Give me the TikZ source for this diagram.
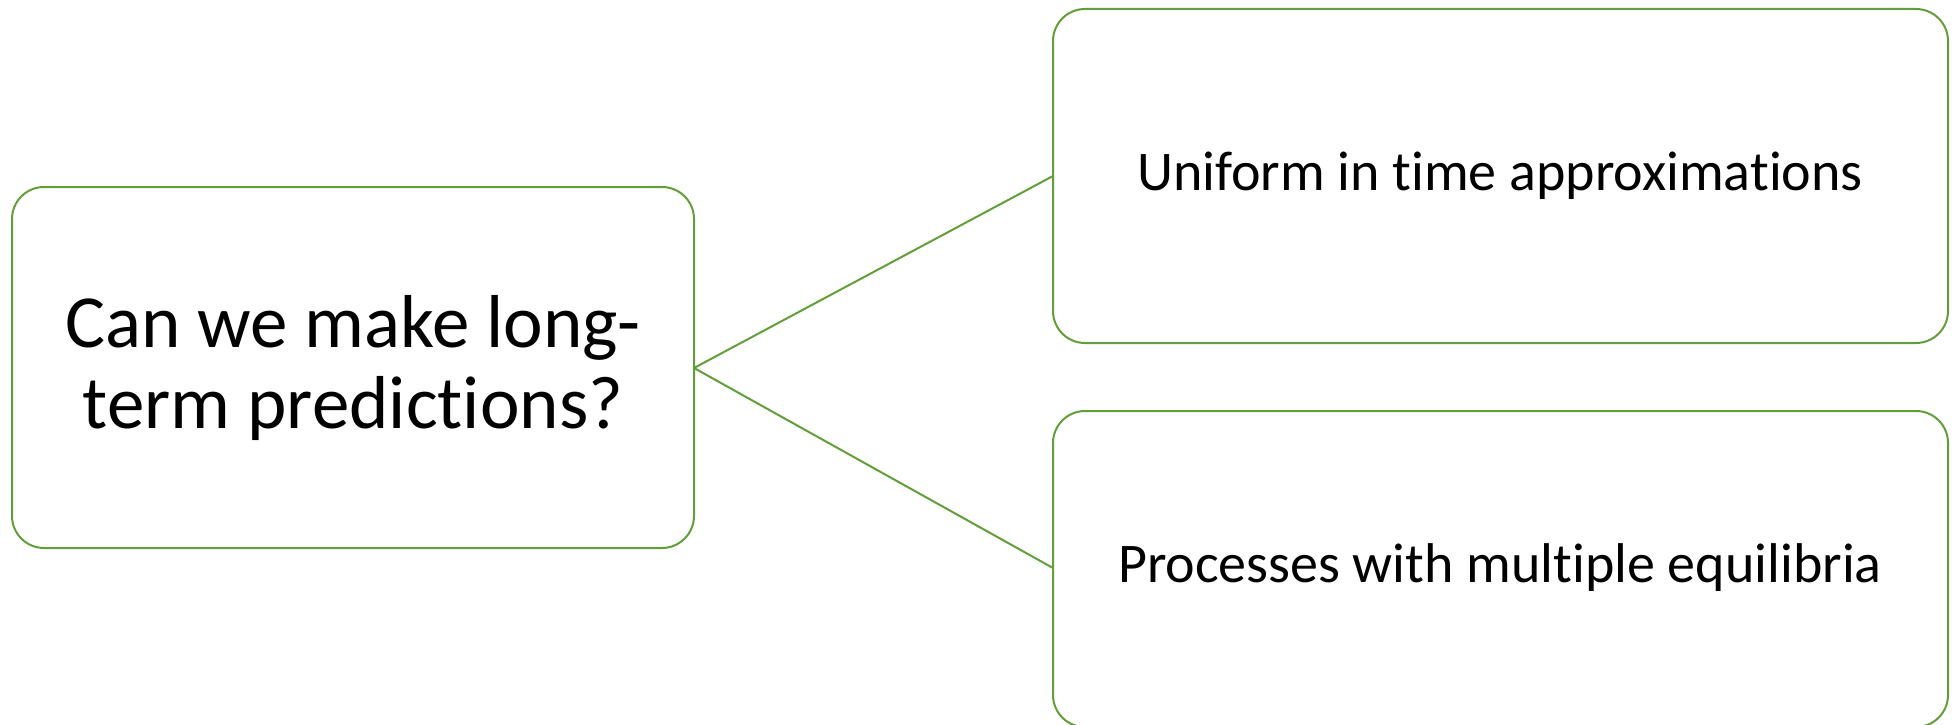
\documentclass[tikz,border=0pt]{standalone}
\usepackage{fontspec}
\setmainfont{Carlito}[Ligatures=NoCommon]
\definecolor{leafgreen}{RGB}{98,158,58}
\begin{document}
\begin{tikzpicture}[x=1pt,y=-1pt,
  box/.style={draw=leafgreen,line width=2pt,rounded corners=32pt,fill=white},
  link/.style={draw=leafgreen,line width=2pt}]
\useasboundingbox (0,0) rectangle (1959,725);
\begin{scope}
\clip (0,0) rectangle (1959,725);
% question box and the two answer boxes
\draw[box] (12,187) rectangle (694,548);
\draw[box] (1053,9) rectangle (1948,343);
\draw[box] (1053,411) rectangle (1948,727);
\end{scope}
\node[align=center,font=\fontsize{75}{81}\selectfont] (q) at (353,368) {Can we make long-\\term predictions?};
\node[font=\fontsize{56}{66}\selectfont] (a1) at (1500,176) {Uniform in time approximations};
\node[font=\fontsize{56}{66}\selectfont] (a2) at (1500,568) {Processes with multiple equilibria};
\coordinate (hub) at (694,368);
\coordinate (in1) at (1053,176);
\coordinate (in2) at (1053,568);
\draw[link] (hub) -- (in1);
\draw[link] (hub) -- (in2);
\end{tikzpicture}
\end{document}
